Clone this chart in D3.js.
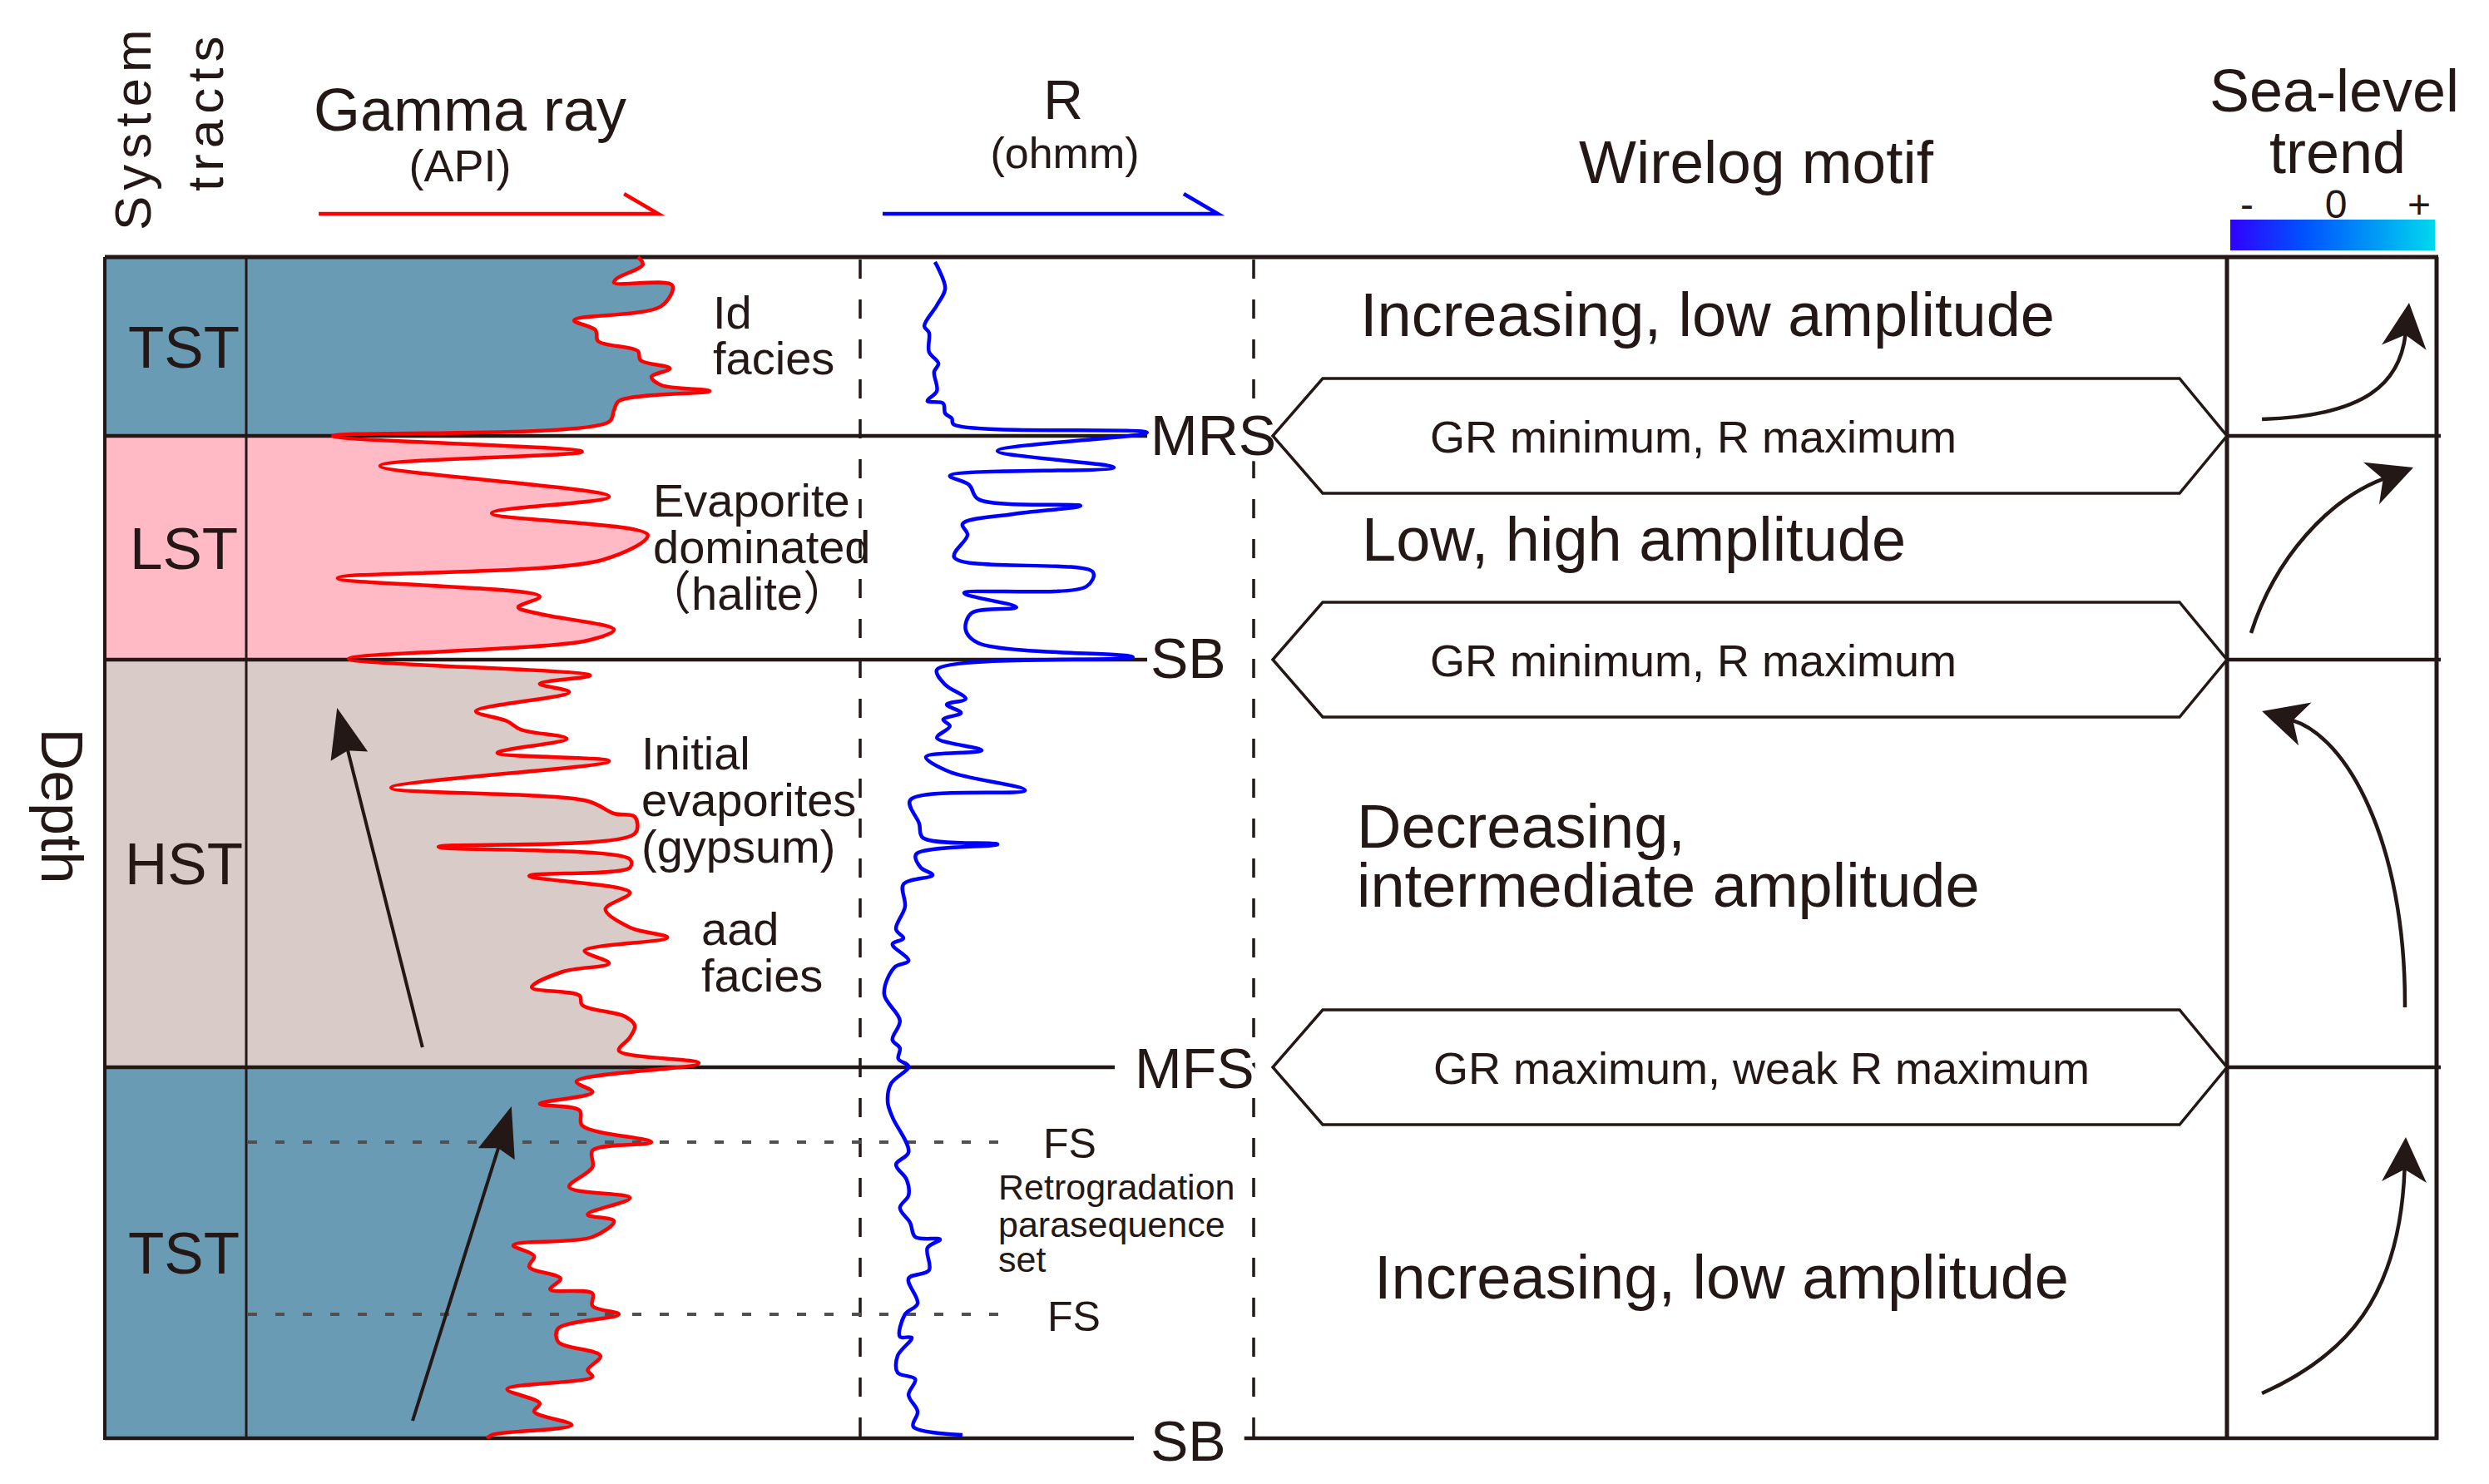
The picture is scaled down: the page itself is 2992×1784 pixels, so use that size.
<!DOCTYPE html>
<html><head><meta charset="utf-8">
<script src="https://cdn.jsdelivr.net/npm/d3@7"></script>
<style>
body{margin:0;background:#fff}
svg{display:block}
text{font-family:"Liberation Sans",Arial,"Noto Sans CJK SC",sans-serif;fill:#231815}
</style></head>
<body>
<svg id="c" width="2992" height="1784"></svg>
<script>
// ---------------- DATA ----------------
// system tracts (depth in arbitrary units, 0 = top of section)
const tractNames  = ["TST", "LST", "HST", "TST"];
const tractTop    = [0, 21.5, 48.4, 97.4];
const tractBase   = [21.5, 48.4, 97.4, 142];
const tractColors = ["#6a9bb5", "#ffbac5", "#d9cbc7", "#6a9bb5"];

// key surfaces
const surfaceNames  = ["MRS", "SB", "MFS", "SB"];
const surfaceDepths = [21.5, 48.4, 97.4, 142];
const floodingSurfaces = [106.4, 127.1];

// gamma ray log [depth, GR (relative API)]
const gammaRay = [
 [0,63.8],[0.9,64.6],[2.6,60.3],[3.1,59.9],[3.4,69.4],[5.9,67.6],[7.6,53.4],[8.8,56.9],[10.1,57.3],
 [11.3,63.8],[12.4,64.2],[13.4,69.0],[14.4,66.0],[15.4,67.6],[16.1,75.5],[17.3,60.7],[18.4,59.9],[19.8,59.1],
 [21.5,14.1],[23.4,54.7],[25.1,21.8],[28.8,59.1],[30.8,40.0],[33.4,65.4],[36.4,58.1],[38.6,14.9],[40.8,47.8],
 [42.1,44.3],[42.9,47.8],[44.8,59.9],[46.1,55.6],[48.3,16.7],[50.3,56.0],[51.3,47.8],[52.3,52.6],[54.6,37.4],
 [55.8,42.5],[56.8,44.7],[57.9,52.2],[59.6,40.9],[60.6,59.1],[63.8,23.6],[65.4,55.6],[66.9,59.9],[67.3,63.3],
 [69.3,63.3],[70.9,31.3],[72.4,62.5],[73.4,62.5],[74.4,46.1],[76.4,62.5],[78.4,58.5],[80.6,62.5],[81.8,68.6],
 [83.4,55.1],[84.9,59.1],[85.9,51.6],[87.8,46.5],[88.8,54.3],[89.9,54.7],[91.3,61.7],[92.4,63.3],[93.8,62.5],
 [95.4,60.7],[96.9,73.7],[99.1,53.8],[100.4,56.4],[101.8,47.8],[102.6,54.3],[104.4,54.7],[106.4,66.0],[107.4,56.4],
 [109.4,56.4],[111.8,52.6],[113.1,62.5],[115.1,55.6],[115.9,59.9],[117.8,56.4],[118.8,43.5],[120.1,46.9],[121.4,46.1],
 [122.8,51.2],[124.1,49.5],[124.6,56.4],[126.1,56.4],[127.1,60.7],[128.8,50.8],[130.4,50.8],[132.1,57.7],[133.8,55.6],
 [134.6,56.4],[136.1,42.5],[137.8,47.8],[138.8,46.9],[140.4,53.0],[141.6,40.0],[142,39.2]
];

// resistivity log [depth, R (relative ohmm)]
const resistivity = [
 [0.6,19.0],[1.4,19.9],[3.8,21.6],[5.8,19.5],[8.3,16.3],[9.1,17.5],[11.4,17.5],[12.8,19.9],[13.8,18.8],[16.1,19.5],
 [17.3,17.1],[17.6,21.1],[18.8,21.6],[19.4,23.3],[20.1,23.7],[21.1,72.9],[23.3,34.9],[25.3,64.5],[26.3,22.8],[27.4,27.7],
 [29.1,30.0],[29.9,56.0],[30.9,38.9],[32.1,26.0],[33.4,27.3],[36.1,23.9],[37.9,59.2],[39.6,57.5],[40.4,26.4],[42.1,39.7],
 [42.8,28.3],[44.8,26.8],[46.4,30.0],[48.1,69.3],[49.6,19.5],[51.4,21.6],[53.1,26.8],[53.8,22.0],[54.8,25.6],[55.6,21.1],
 [56.4,22.8],[57.8,19.5],[59.3,30.9],[60.1,16.7],[61.9,22.8],[64.1,41.9],[65.3,12.7],[68.1,15.0],[69.8,15.9],[70.6,34.9],
 [71.8,14.2],[73.4,15.4],[74.3,18.4],[75.4,11.0],[78.1,11.4],[80.8,9.1],[81.9,11.0],[82.6,8.2],[84.6,12.3],[85.4,8.7],
 [88.6,6.1],[91.8,10.1],[94.1,8.2],[95.1,10.1],[96.4,9.7],[97.3,12.3],[99.4,7.8],[101.6,7.0],[103.4,8.2],[107.6,12.3],
 [109.1,9.1],[110.9,11.8],[112.8,12.3],[114.3,10.1],[116.1,12.7],[117.8,14.0],[118.1,20.3],[119.1,17.1],[121.8,17.5],
 [122.8,12.3],[125.8,14.6],[127.1,11.4],[129.8,10.1],[129.9,13.1],[132.1,9.5],[134.1,9.5],[134.9,14.0],[136.8,12.3],
 [138.8,14.6],[140.6,13.5],[141.6,26.0]
];

// facies trend arrows in GR track: [[GR, depth] tail, [GR, depth] tip]
const trackArrows = [
  [[28.7, 95.0], [14.8, 54.2]],
  [[27.1, 139.9], [43.2, 102.1]]
];

// sea-level trend curves: [trend(0..1 across column), depth] control points P0,P1,P2,tip
const seaLevelArrows = [
  [[0.167,19.5],[0.667,19.1],[0.825,15.1],[0.869,5.5]],
  [[0.115,45.2],[0.230,36.1],[0.488,29.1],[0.889,25.3]],
  [[0.849,90.2],[0.853,70.1],[0.567,57.6],[0.167,54.6]],
  [[0.167,136.6],[0.567,132.1],[0.825,125.1],[0.853,105.8]]
];

// wirelog motif text
const motifLines  = ["Increasing, low amplitude", "Low, high amplitude", "Decreasing,", "intermediate amplitude", "Increasing, low amplitude"];
const motifDepths = [9.5, 36.5, 71.0, 78.1, 125.2];
const motifX      = [1635, 1637, 1631, 1631, 1652];
const hexTexts    = ["GR minimum, R maximum", "GR minimum, R maximum", "GR maximum, weak R maximum"];

// facies annotations
const faciesNotes = [
  {lines:["Id","facies"], x:857, depth:[8.6, 14.1]},
  {lines:["Evaporite","dominated"], x:785, depth:[31.2, 36.8]},
  {lines:["Initial","evaporites","(gypsum)"], x:771, depth:[61.6, 67.2, 72.8]},
  {lines:["aad","facies"], x:843, depth:[82.7, 88.3]}
];

// ---------------- SCALES ----------------
const INK = "#231815";
const svg = d3.select("#c");
const yD = d3.scaleLinear().domain([0, 142]).range([309, 1729]);
const xGR = d3.scaleLinear().domain([0, 100]).range([296, 1034]);
const xR  = d3.scaleLinear().domain([0, 100]).range([1034, 1507]);
const xT  = d3.scaleLinear().domain([0, 1]).range([2677, 2929]);
const X0 = 126, XDIV = 296, XD1 = 1034, XD2 = 1507, XSL = 2677, XR_ = 2929;

const defs = svg.append("defs");
const grad = defs.append("linearGradient").attr("id","sl").attr("x1","0").attr("x2","1");
[["0","#3000ff"],["0.35","#0050ff"],["0.7","#0098f6"],["1","#00d8ee"]].forEach(s =>
  grad.append("stop").attr("offset", s[0]).attr("stop-color", s[1]));

// ---------------- TRACT CELLS & GR FILL ----------------
const grArea = d3.area().curve(d3.curveCatmullRom.alpha(0.5))
  .x0(xGR(0)).x1(d => xGR(d[1])).y(d => yD(d[0]));
tractNames.forEach((n, i) => {
  svg.append("rect").attr("x", X0).attr("y", yD(tractTop[i]))
    .attr("width", XDIV - X0).attr("height", yD(tractBase[i]) - yD(tractTop[i]))
    .attr("fill", tractColors[i]);
  defs.append("clipPath").attr("id", "tc" + i).append("rect")
    .attr("x", XDIV).attr("y", yD(tractTop[i])).attr("width", XD1 - XDIV)
    .attr("height", yD(tractBase[i]) - yD(tractTop[i]));
  svg.append("path").datum(gammaRay).attr("d", grArea)
    .attr("fill", tractColors[i]).attr("clip-path", `url(#tc${i})`);
});

// ---------------- GRID LINES ----------------
const lines = svg.append("g").attr("stroke", INK).attr("fill", "none");
// dashed track separators
[XD1, XD2].forEach(x => lines.append("line").attr("x1", x).attr("x2", x)
  .attr("y1", yD(0) + 3).attr("y2", yD(142)).attr("stroke-width", 3.5).attr("stroke-dasharray", "23,25"));
// flooding surfaces (dotted)
floodingSurfaces.forEach(d => lines.append("line").attr("x1", XDIV + 2).attr("x2", 1220)
  .attr("y1", yD(d)).attr("y2", yD(d)).attr("stroke", "#505050").attr("stroke-width", 4)
  .attr("stroke-dasharray", "11,22"));

// ---------------- LABELS for surfaces (with halo to break dashed line) ----------------
const surfLabelX = [1383, 1383, 1364, 1383];
const surfLabelDy = [23, 22, 25, 27];
const surfLineGap = [4, 4, 24, 20];
const surfLabelW = [];
surfaceNames.forEach((n, i) => {
  const t = svg.append("text").attr("x", surfLabelX[i]).attr("y", yD(surfaceDepths[i]) + surfLabelDy[i])
    .attr("font-size", 68).text(n)
    .attr("stroke", "#fff").attr("stroke-width", 14).attr("paint-order", "stroke");
  surfLabelW.push(t.node().getComputedTextLength());
});

// boundaries
surfaceDepths.forEach((d, i) => {
  lines.append("line").attr("x1", X0).attr("x2", surfLabelX[i] - surfLineGap[i])
    .attr("y1", yD(d)).attr("y2", yD(d)).attr("stroke-width", 4.5);
  const xs = (i === 3) ? surfLabelX[i] + surfLabelW[i] + 22 : XSL;
  lines.append("line").attr("x1", xs).attr("x2", XR_ + (i === 3 ? 2 : 5))
    .attr("y1", yD(d)).attr("y2", yD(d)).attr("stroke-width", 4.5);
});
// top border and verticals
lines.append("line").attr("x1", X0).attr("x2", XR_ + 2).attr("y1", yD(0)).attr("y2", yD(0)).attr("stroke-width", 5);
lines.append("line").attr("x1", X0).attr("x2", X0).attr("y1", yD(0)).attr("y2", yD(142) + 2).attr("stroke-width", 4);
lines.append("line").attr("x1", XDIV).attr("x2", XDIV).attr("y1", yD(0)).attr("y2", yD(142)).attr("stroke-width", 3);
lines.append("line").attr("x1", XSL).attr("x2", XSL).attr("y1", yD(0)).attr("y2", yD(142)).attr("stroke-width", 5);
lines.append("line").attr("x1", XR_).attr("x2", XR_).attr("y1", yD(0)).attr("y2", yD(142) + 2).attr("stroke-width", 5);

// ---------------- LOG CURVES ----------------
const grLine = d3.line().curve(d3.curveCatmullRom.alpha(0.5)).x(d => xGR(d[1])).y(d => yD(d[0]));
const rLine  = d3.line().curve(d3.curveCatmullRom.alpha(0.5)).x(d => xR(d[1])).y(d => yD(d[0]));
svg.append("path").datum(gammaRay).attr("d", grLine).attr("fill", "none")
  .attr("stroke", "#ff0000").attr("stroke-width", 4.5).attr("stroke-linejoin", "round");
svg.append("path").datum(resistivity).attr("d", rLine).attr("fill", "none")
  .attr("stroke", "#0000ff").attr("stroke-width", 4.5).attr("stroke-linejoin", "round");

// ---------------- ARROW HELPERS ----------------
function head(tip, dir, L, W, notch) {
  const [tx, ty] = tip, [ux, uy] = dir, px = -uy, py = ux;
  const bx = tx - ux * L, by = ty - uy * L;
  const p = [[tx, ty], [bx + px * W, by + py * W], [tx - ux * L * (1 - notch), ty - uy * L * (1 - notch)], [bx - px * W, by - py * W]];
  svg.append("path").attr("d", "M" + p.map(q => q.join(",")).join("L") + "Z").attr("fill", INK);
}
function unit(a, b) { const dx = b[0] - a[0], dy = b[1] - a[1], l = Math.hypot(dx, dy); return [dx / l, dy / l]; }

trackArrows.forEach(([t, h]) => {
  const a = [xGR(t[0]), yD(t[1])], b = [xGR(h[0]), yD(h[1])];
  const u = unit(a, b);
  svg.append("line").attr("x1", a[0]).attr("y1", a[1])
    .attr("x2", b[0] - u[0] * 40).attr("y2", b[1] - u[1] * 40)
    .attr("stroke", INK).attr("stroke-width", 4);
  head(b, u, 60, 23, 0.12);
});

seaLevelArrows.forEach(pts => {
  const P = pts.map(p => [xT(p[0]), yD(p[1])]);
  const u = unit(P[2], P[3]);
  const L = 54;
  const end = [P[3][0] - u[0] * L * 0.7, P[3][1] - u[1] * L * 0.7];
  const path = d3.path();
  path.moveTo(P[0][0], P[0][1]);
  path.bezierCurveTo(P[1][0], P[1][1], P[2][0], P[2][1], end[0], end[1]);
  svg.append("path").attr("d", path.toString()).attr("fill", "none")
    .attr("stroke", INK).attr("stroke-width", 4.5);
  head(P[3], u, L, 27, 0.28);
});

// ---------------- HEXAGONS ----------------
const hexLeft = 1530, hexInset = 60, hexHalf = 69;
const hexTextX = [1719, 1719, 1723];
hexTexts.forEach((t, i) => {
  const yc = yD(surfaceDepths[i]);
  const pts = [[hexLeft, yc], [hexLeft + hexInset, yc - hexHalf], [XSL - 57, yc - hexHalf], [XSL, yc],
               [XSL - 57, yc + hexHalf], [hexLeft + hexInset, yc + hexHalf]];
  svg.append("path").attr("d", "M" + pts.map(p => p.join(",")).join("L") + "Z")
    .attr("fill", "#fff").attr("stroke", INK).attr("stroke-width", 3.5);
  svg.append("text").attr("x", hexTextX[i]).attr("y", yc + 20).attr("font-size", 54).text(t);
});

// ---------------- TEXT ----------------
tractNames.forEach((n, i) => {
  svg.append("text").attr("x", 221).attr("y", (yD(tractTop[i]) + yD(tractBase[i])) / 2 + 25)
    .attr("text-anchor", "middle").attr("font-size", 71).text(n);
});
svg.append("text").attr("transform", "translate(50,969) rotate(90)")
  .attr("text-anchor", "middle").attr("font-size", 70).text("Depth");

motifLines.forEach((t, i) => svg.append("text").attr("x", motifX[i]).attr("y", yD(motifDepths[i]))
  .attr("font-size", 74).text(t));

faciesNotes.forEach(f => f.lines.forEach((l, j) => svg.append("text").attr("x", f.x)
  .attr("y", yD(f.depth[j])).attr("font-size", 56).text(l)));
svg.append("text").attr("x", 898).attr("y", yD(42.4)).attr("text-anchor", "middle")
  .attr("font-size", 56).text("（halite）");

svg.append("text").attr("x", 1254).attr("y", yD(108.3)).attr("font-size", 50).text("FS");
svg.append("text").attr("x", 1259).attr("y", yD(129.1)).attr("font-size", 50).text("FS");
["Retrogradation", "parasequence", "set"].forEach((l, j) =>
  svg.append("text").attr("x", 1200).attr("y", yD([113.3, 117.8, 122.0][j])).attr("font-size", 43).text(l));

// ---------------- HEADER ----------------
svg.append("text").attr("transform", "translate(181,277) rotate(-90)").attr("font-size", 62)
  .attr("letter-spacing", 7).text("System");
svg.append("text").attr("transform", "translate(268,230) rotate(-90)").attr("font-size", 62)
  .attr("letter-spacing", 7).text("tracts");

svg.append("text").attr("x", 565).attr("y", 157).attr("text-anchor", "middle").attr("font-size", 72).text("Gamma ray");
svg.append("text").attr("x", 553).attr("y", 218).attr("text-anchor", "middle").attr("font-size", 54).text("(API)");
svg.append("text").attr("x", 1278).attr("y", 143).attr("text-anchor", "middle").attr("font-size", 66).text("R");
svg.append("text").attr("x", 1280).attr("y", 202).attr("text-anchor", "middle").attr("font-size", 52).text("(ohmm)");
svg.append("text").attr("x", 2111).attr("y", 220).attr("text-anchor", "middle").attr("font-size", 73).text("Wirelog motif");
svg.append("text").attr("x", 2806).attr("y", 134).attr("text-anchor", "middle").attr("font-size", 72).text("Sea-level");
svg.append("text").attr("x", 2810).attr("y", 208).attr("text-anchor", "middle").attr("font-size", 72).text("trend");
[["-", 2701], ["0", 2808], ["+", 2908]].forEach(s => svg.append("text").attr("x", s[1]).attr("y", 262)
  .attr("text-anchor", "middle").attr("font-size", 48).text(s[0]));
svg.append("rect").attr("x", 2681).attr("y", 264).attr("width", 246).attr("height", 37).attr("fill", "url(#sl)");

// log header arrows (direction of increasing values)
function logArrow(x1, x2, color) {
  svg.append("path").attr("d", `M${x1},257L${x2},257L${x2 - 41},233`).attr("fill", "none")
    .attr("stroke", color).attr("stroke-width", 4.5).attr("stroke-linejoin", "miter");
}
logArrow(xGR(11.8), xGR(67.1), "#ff0000");
logArrow(xR(5.7), xR(90.9), "#0000ff");
</script>
</body></html>
